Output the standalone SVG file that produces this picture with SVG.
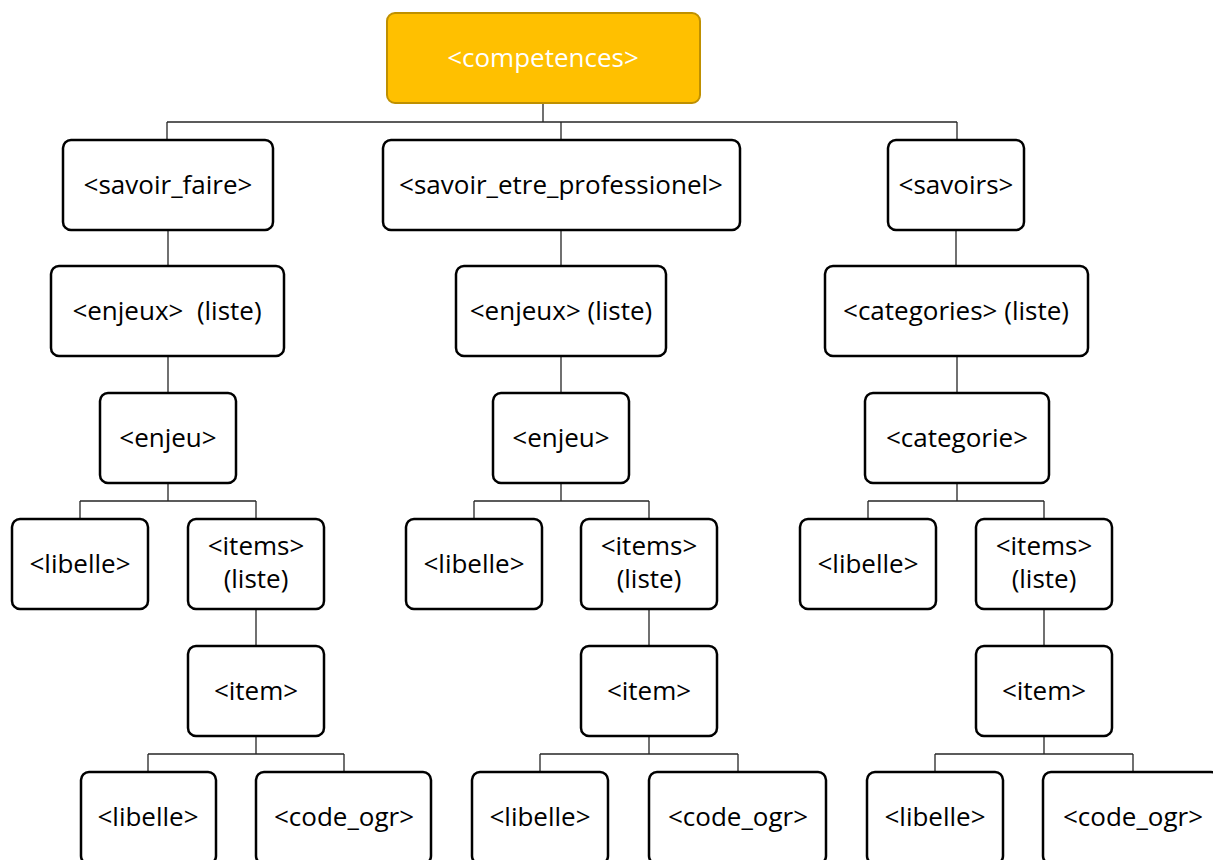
<svg xmlns="http://www.w3.org/2000/svg" width="1213" height="860" viewBox="0 0 1213 860">
<style>
.n{fill:#fff;stroke:#000;stroke-width:2.5}
.r{fill:#FFC000;stroke:#BF9000;stroke-width:2}
text{font-family:"Open Sans","Liberation Sans",sans-serif;font-size:26px;text-anchor:middle;fill:#000}
.w{fill:#fff}
.c{fill:none;stroke:#262626;stroke-width:1.3}
</style>
<rect width="1213" height="860" fill="#fff"/>
<g id="connectors" class="c">
<path d="M543 103V122M167 122H957M167 122V140M561 122V140M957 122V140"/>
<path d="M168 230V266M561 230V266M956 230V266"/>
<path d="M168 356V393M561 356V393M957 356V393"/>
<path d="M168 483V501M80 501H256M80 501V519M256 501V519"/>
<path d="M561 483V501M474 501H649M474 501V519M649 501V519"/>
<path d="M957 483V501M868 501H1044M868 501V519M1044 501V519"/>
<path d="M256 609V646M649 609V646M1044 609V646"/>
<path d="M256 736V754M148 754H344M148 754V772M344 754V772"/>
<path d="M649 736V754M540 754H738M540 754V772M738 754V772"/>
<path d="M1044 736V754M935 754H1133M935 754V772M1133 754V772"/>
</g>
<g id="competences"><rect class="r" x="387" y="13" width="313" height="90" rx="8"/><text class="w" x="543" y="67">&lt;competences&gt;</text></g>
<g id="savoir_faire"><rect class="n" x="63" y="140" width="210" height="90" rx="8"/><text x="168" y="194">&lt;savoir_faire&gt;</text></g>
<g id="savoir_etre"><rect class="n" x="383" y="140" width="357" height="90" rx="8"/><text x="561" y="194">&lt;savoir_etre_professionel&gt;</text></g>
<g id="savoirs"><rect class="n" x="888" y="140" width="136" height="90" rx="8"/><text x="956" y="194">&lt;savoirs&gt;</text></g>
<g id="enjeux1"><rect class="n" x="51" y="266" width="233" height="90" rx="8"/><text x="167" y="320" xml:space="preserve">&lt;enjeux&gt;  (liste)</text></g>
<g id="enjeux2"><rect class="n" x="456" y="266" width="210" height="90" rx="8"/><text x="561" y="320">&lt;enjeux&gt; (liste)</text></g>
<g id="categories"><rect class="n" x="825" y="266" width="263" height="90" rx="8"/><text x="956" y="320">&lt;categories&gt; (liste)</text></g>
<g id="enjeu1"><rect class="n" x="100" y="393" width="136" height="90" rx="8"/><text x="168" y="447">&lt;enjeu&gt;</text></g>
<g id="enjeu2"><rect class="n" x="493" y="393" width="136" height="90" rx="8"/><text x="561" y="447">&lt;enjeu&gt;</text></g>
<g id="categorie"><rect class="n" x="865" y="393" width="184" height="90" rx="8"/><text x="957" y="447">&lt;categorie&gt;</text></g>
<g id="libelle1"><rect class="n" x="12" y="519" width="136" height="90" rx="8"/><text x="80" y="573">&lt;libelle&gt;</text></g>
<g id="items1"><rect class="n" x="188" y="519" width="136" height="90" rx="8"/><text x="256" y="555">&lt;items&gt;</text><text x="256" y="588">(liste)</text></g>
<g id="libelle2"><rect class="n" x="406" y="519" width="136" height="90" rx="8"/><text x="474" y="573">&lt;libelle&gt;</text></g>
<g id="items2"><rect class="n" x="581" y="519" width="136" height="90" rx="8"/><text x="649" y="555">&lt;items&gt;</text><text x="649" y="588">(liste)</text></g>
<g id="libelle3"><rect class="n" x="800" y="519" width="136" height="90" rx="8"/><text x="868" y="573">&lt;libelle&gt;</text></g>
<g id="items3"><rect class="n" x="976" y="519" width="136" height="90" rx="8"/><text x="1044" y="555">&lt;items&gt;</text><text x="1044" y="588">(liste)</text></g>
<g id="item1"><rect class="n" x="188" y="646" width="136" height="90" rx="8"/><text x="256" y="700">&lt;item&gt;</text></g>
<g id="item2"><rect class="n" x="581" y="646" width="136" height="90" rx="8"/><text x="649" y="700">&lt;item&gt;</text></g>
<g id="item3"><rect class="n" x="976" y="646" width="136" height="90" rx="8"/><text x="1044" y="700">&lt;item&gt;</text></g>
<g id="libelle4"><rect class="n" x="81" y="772" width="135" height="92" rx="8"/><text x="148" y="826">&lt;libelle&gt;</text></g>
<g id="code_ogr1"><rect class="n" x="256" y="772" width="175" height="92" rx="8"/><text x="344" y="826">&lt;code_ogr&gt;</text></g>
<g id="libelle5"><rect class="n" x="472" y="772" width="136" height="92" rx="8"/><text x="540" y="826">&lt;libelle&gt;</text></g>
<g id="code_ogr2"><rect class="n" x="649" y="772" width="177" height="92" rx="8"/><text x="738" y="826">&lt;code_ogr&gt;</text></g>
<g id="libelle6"><rect class="n" x="867" y="772" width="136" height="92" rx="8"/><text x="935" y="826">&lt;libelle&gt;</text></g>
<g id="code_ogr3"><rect class="n" x="1043" y="772" width="176" height="92" rx="8"/><text x="1133" y="826">&lt;code_ogr&gt;</text></g>
</svg>
